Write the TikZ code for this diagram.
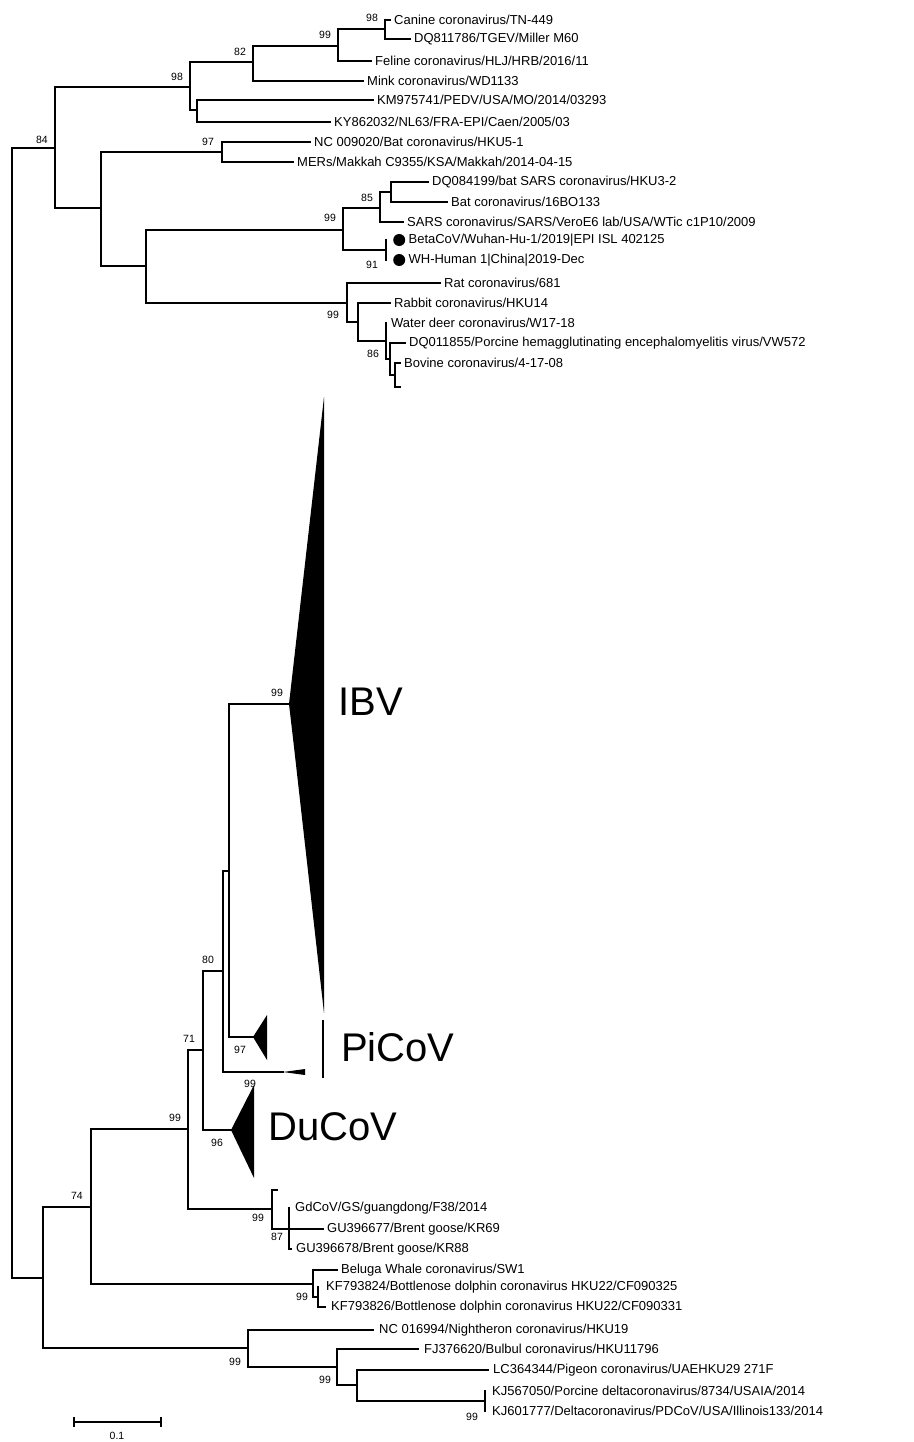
\documentclass[tikz,border=0pt]{standalone}
\usepackage{fontspec}
\setmainfont{Liberation Sans}
\usetikzlibrary{positioning}

\begin{document}
\begin{tikzpicture}[
  x=1pt, y=-1pt,
  br/.style={line width=1.15pt, line cap=rect},
  leaf/.style={anchor=west, inner sep=0pt, font=\fontsize{13}{13}\selectfont},
  bs/.style={inner sep=0pt, font=\fontsize{10.5}{10.5}\selectfont},
  clade/.style={anchor=west, inner sep=0pt, font=\fontsize{40}{40}\selectfont},
  dot/.style={circle, fill=black, inner sep=0pt, minimum size=12pt}
]
\useasboundingbox (0,0) rectangle (913,1442);

% inner nodes, upper part
\coordinate (root) at (12,713);
\coordinate (n84)  at (55,148);
\coordinate (n98a) at (190,87);
\coordinate (n82)  at (253,62);
\coordinate (n99a) at (338,46);
\coordinate (n98b) at (385,29);
\coordinate (nK)   at (197,110);
\coordinate (nA)   at (101,208);
\coordinate (n97)  at (222,152);
\coordinate (nS)   at (146,266);
\coordinate (n99b) at (343,230);
\coordinate (n85)  at (380,208);
\coordinate (nH)   at (391,192);
\coordinate (n91)  at (386,250);
\coordinate (n99c) at (347,303);
\coordinate (nR)   at (358,322);
\coordinate (n86)  at (386,341);
\coordinate (nP)   at (390,359);
\coordinate (nBo)  at (395,375);

% tips, upper part
\coordinate (tCanine) at (390,20);
\coordinate (tDQ81)   at (410,39);
\coordinate (tFeline) at (371,61);
\coordinate (tMink)   at (363,81);
\coordinate (tKM)     at (373,100);
\coordinate (tKY)     at (330,122);
\coordinate (tNC09)   at (310,142);
\coordinate (tMERS)   at (293,162);
\coordinate (tDQ08)   at (428,182);
\coordinate (tBat)    at (447,202);
\coordinate (tSARS)   at (403,222);
\coordinate (tBeta)   at (386,240);
\coordinate (tWH)     at (386,260);
\coordinate (tRat)    at (440,283);
\coordinate (tRabbit) at (390,303);
\coordinate (tWater)  at (386,323);
\coordinate (tDQ01)   at (405,343);
\coordinate (tBovine) at (400,363);
\coordinate (tX)      at (400,387);

% inner nodes, lower part
\coordinate (nB)   at (43,1278);
\coordinate (n74)  at (91,1207);
\coordinate (n99d) at (188,1129);
\coordinate (n71)  at (203,1050);
\coordinate (n80)  at (223,971);
\coordinate (nIP)  at (229,871);
\coordinate (nGd)  at (272,1209);
\coordinate (n87)  at (289,1229);
\coordinate (nBel) at (313,1284);
\coordinate (nKF)  at (318,1297);
\coordinate (n99g) at (248,1348);
\coordinate (n99h) at (337,1367);
\coordinate (nLC)  at (357,1385);
\coordinate (n99i) at (485,1401);

% tips, lower part
\coordinate (tIBV)  at (289,704);
\coordinate (tPi)   at (253,1037);
\coordinate (tPi1)  at (283,1072);
\coordinate (tDu)   at (231,1130);
\coordinate (tGd0)  at (277,1190);
\coordinate (tGd)   at (289,1208);
\coordinate (tGU77) at (323,1229);
\coordinate (tGU78) at (291,1249);
\coordinate (tBel)  at (337,1270);
\coordinate (tKF24) at (318,1287);
\coordinate (tKF26) at (325,1307);
\coordinate (tNC16) at (373,1330);
\coordinate (tFJ)   at (418,1349);
\coordinate (tLC)   at (488,1370);
\coordinate (tKJ50) at (485,1391);
\coordinate (tKJ01) at (485,1411);

% branches
\draw[br] (root) |- (n84) (root) |- (nB);
\draw[br] (n84) |- (n98a) (n84) |- (nA);
\draw[br] (n98a) |- (n82) (n98a) |- (nK);
\draw[br] (n82) |- (n99a) (n82) |- (tMink);
\draw[br] (n99a) |- (n98b) (n99a) |- (tFeline);
\draw[br] (n98b) |- (tCanine) (n98b) |- (tDQ81);
\draw[br] (nK) |- (tKM) (nK) |- (tKY);
\draw[br] (nA) |- (n97) (nA) |- (nS);
\draw[br] (n97) |- (tNC09) (n97) |- (tMERS);
\draw[br] (nS) |- (n99b) (nS) |- (n99c);
\draw[br] (n99b) |- (n85) (n99b) |- (n91);
\draw[br] (n85) |- (nH) (n85) |- (tSARS);
\draw[br] (nH) |- (tDQ08) (nH) |- (tBat);
\draw[br] (n91) |- (tBeta) (n91) |- (tWH);
\draw[br] (n99c) |- (tRat) (n99c) |- (nR);
\draw[br] (nR) |- (tRabbit) (nR) |- (n86);
\draw[br] (n86) |- (tWater) (n86) |- (nP);
\draw[br] (nP) |- (tDQ01) (nP) |- (nBo);
\draw[br] (nBo) |- (tBovine) (nBo) |- (tX);

\draw[br] (nB) |- (n74) (nB) |- (n99g);
\draw[br] (n74) |- (n99d) (n74) |- (nBel);
\draw[br] (n99d) |- (n71) (n99d) |- (nGd);
\draw[br] (n71) |- (n80) (n71) |- (tDu);
\draw[br] (n80) |- (nIP) (n80) |- (tPi1);
\draw[br] (nIP) |- (tIBV) (nIP) |- (tPi);
\draw[br] (nGd) |- (tGd0) (nGd) |- (n87);
\draw[br] (n87) |- (tGd) (n87) |- (tGU77) (n87) |- (tGU78);
\draw[br] (nBel) |- (tBel) (nBel) |- (nKF);
\draw[br] (nKF) |- (tKF24) (nKF) |- (tKF26);
\draw[br] (n99g) |- (tNC16) (n99g) |- (n99h);
\draw[br] (n99h) |- (tFJ) (n99h) |- (nLC);
\draw[br] (nLC) |- (tLC) (nLC) |- (n99i);
\draw[br] (n99i) |- (tKJ50) (n99i) |- (tKJ01);

% collapsed clades
\fill (tIBV) -- (324,397) -- (324,1013) -- (294,747) -- cycle;
\fill (tPi) -- (267,1015) -- (267,1060) -- cycle;
\fill (tPi1) -- (305,1069) -- (305,1075) -- cycle;
\fill (tDu) -- (254,1085) -- (254,1178) -- cycle;
\coordinate (piTop) at (323,1021);
\coordinate (piBot) at (323,1077);
\draw[br] (piTop) -- (piBot);
\node[clade] (lIBV) at (338,702) {IBV};
\node[clade] (lPi)  at (341,1047) {PiCoV};
\node[clade] (lDu)  at (268,1127) {DuCoV};

% tip labels
\node[leaf, right=4pt of tCanine] (lCanine) {Canine coronavirus/TN-449};
\node[leaf, right=4pt of tDQ81]   (lDQ81)   {DQ811786/TGEV/Miller M60};
\node[leaf, right=4pt of tFeline] (lFeline) {Feline coronavirus/HLJ/HRB/2016/11};
\node[leaf, right=4pt of tMink]   (lMink)   {Mink coronavirus/WD1133};
\node[leaf, right=4pt of tKM]     (lKM)     {KM975741/PEDV/USA/MO/2014/03293};
\node[leaf, right=4pt of tKY]     (lKY)     {KY862032/NL63/FRA-EPI/Caen/2005/03};
\node[leaf, right=4pt of tNC09]   (lNC09)   {NC 009020/Bat coronavirus/HKU5-1};
\node[leaf, right=4pt of tMERS]   (lMERS)   {MERs/Makkah C9355/KSA/Makkah/2014-04-15};
\node[leaf, right=4pt of tDQ08]   (lDQ08)   {DQ084199/bat SARS coronavirus/HKU3-2};
\node[leaf, right=4pt of tBat]    (lBat)    {Bat coronavirus/16BO133};
\node[leaf, right=4pt of tSARS]   (lSARS)   {SARS coronavirus/SARS/VeroE6 lab/USA/WTic c1P10/2009};
\node[dot, right=7pt of tBeta]    (dBeta)   {};
\node[leaf, right=3pt of dBeta]   (lBeta)   {BetaCoV/Wuhan-Hu-1/2019|EPI ISL 402125};
\node[dot, right=7pt of tWH]      (dWH)     {};
\node[leaf, right=3pt of dWH]     (lWH)     {WH-Human 1|China|2019-Dec};
\node[leaf, right=4pt of tRat]    (lRat)    {Rat coronavirus/681};
\node[leaf, right=4pt of tRabbit] (lRabbit) {Rabbit coronavirus/HKU14};
\node[leaf, right=5pt of tWater]  (lWater)  {Water deer coronavirus/W17-18};
\node[leaf, right=4pt of tDQ01]   (lDQ01)   {DQ011855/Porcine hemagglutinating encephalomyelitis virus/VW572};
\node[leaf, right=4pt of tBovine] (lBovine) {Bovine coronavirus/4-17-08};

\node[leaf, right=6pt of tGd]     (lGd)     {GdCoV/GS/guangdong/F38/2014};
\node[leaf, right=4pt of tGU77]   (lGU77)   {GU396677/Brent goose/KR69};
\node[leaf, right=5pt of tGU78]   (lGU78)   {GU396678/Brent goose/KR88};
\node[leaf, right=4pt of tBel]    (lBel)    {Beluga Whale coronavirus/SW1};
\node[leaf, right=8pt of tKF24]   (lKF24)   {KF793824/Bottlenose dolphin coronavirus HKU22/CF090325};
\node[leaf, right=6pt of tKF26]   (lKF26)   {KF793826/Bottlenose dolphin coronavirus HKU22/CF090331};
\node[leaf, right=6pt of tNC16]   (lNC16)   {NC 016994/Nightheron coronavirus/HKU19};
\node[leaf, right=6pt of tFJ]     (lFJ)     {FJ376620/Bulbul coronavirus/HKU11796};
\node[leaf, right=5pt of tLC]     (lLC)     {LC364344/Pigeon coronavirus/UAEHKU29 271F};
\node[leaf, right=7pt of tKJ50]   (lKJ50)   {KJ567050/Porcine deltacoronavirus/8734/USAIA/2014};
\node[leaf, right=7pt of tKJ01]   (lKJ01)   {KJ601777/Deltacoronavirus/PDCoV/USA/Illinois133/2014};

% bootstrap values
\node[bs] (b84)   at (42,140)   {84};
\node[bs] (b98a)  at (177,77)   {98};
\node[bs] (b82)   at (240,52)   {82};
\node[bs] (b99a)  at (325,35)   {99};
\node[bs] (b98b)  at (372,18)   {98};
\node[bs] (b97)   at (208,142)  {97};
\node[bs] (b85)   at (367,198)  {85};
\node[bs] (b99b)  at (330,218)  {99};
\node[bs] (b91)   at (372,265)  {91};
\node[bs] (b99c)  at (333,315)  {99};
\node[bs] (b86)   at (373,354)  {86};
\node[bs] (b99ib) at (277,693)  {99};
\node[bs] (b80)   at (208,960)  {80};
\node[bs] (b97pi) at (240,1050) {97};
\node[bs] (b71)   at (189,1039) {71};
\node[bs] (b99du) at (250,1084) {99};
\node[bs] (b99d)  at (175,1118) {99};
\node[bs] (b96)   at (217,1143) {96};
\node[bs] (b74)   at (77,1196)  {74};
\node[bs] (b99gd) at (258,1218) {99};
\node[bs] (b87)   at (277,1237) {87};
\node[bs] (b99kf) at (302,1297) {99};
\node[bs] (b99g)  at (235,1362) {99};
\node[bs] (b99h)  at (325,1380) {99};
\node[bs] (b99i)  at (472,1417) {99};

% scale bar
\coordinate (sL) at (74,1422);
\coordinate (sR) at (161,1422);
\draw[br] (sL) -- (sR);
\draw[br] ([yshift=4pt]sL) -- ([yshift=-4pt]sL);
\draw[br] ([yshift=4pt]sR) -- ([yshift=-4pt]sR);
\node[bs] (sLab) at (117,1436) {0.1};
\end{tikzpicture}
\end{document}
